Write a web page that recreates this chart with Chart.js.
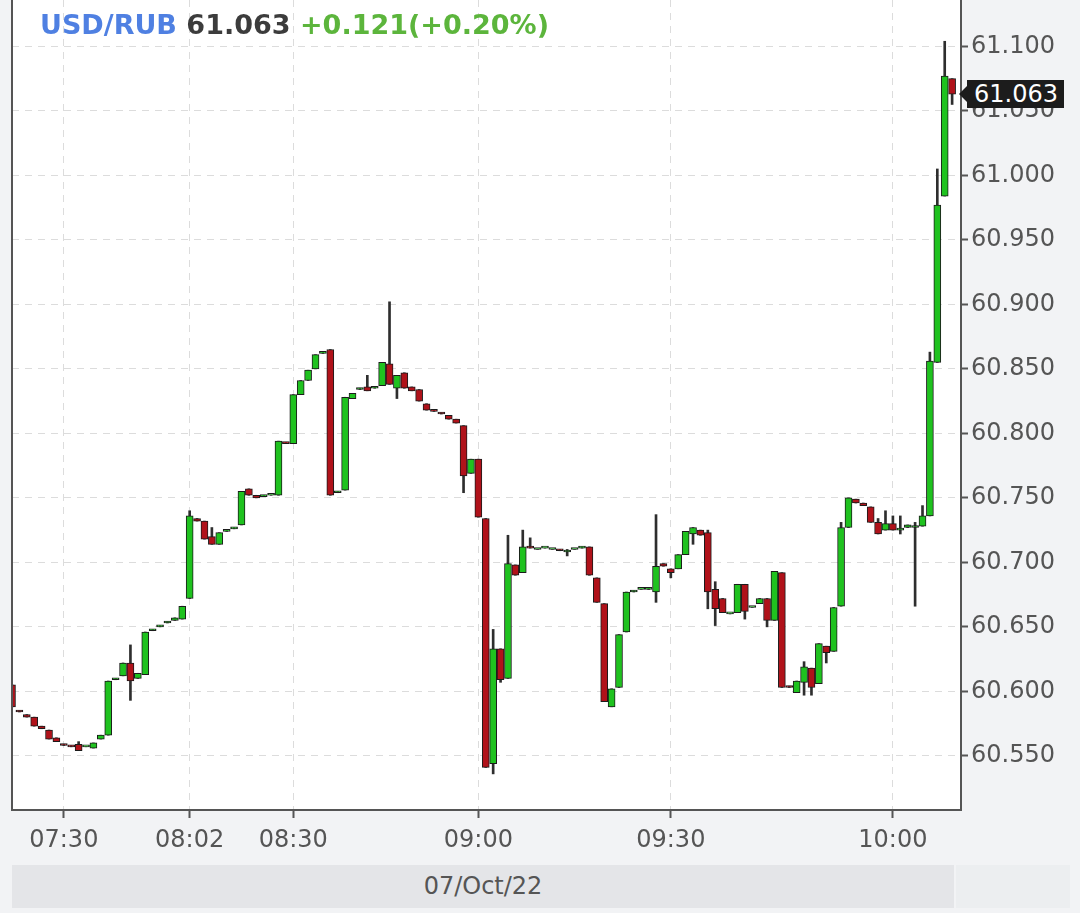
<!DOCTYPE html>
<html>
<head>
<meta charset="utf-8">
<script src="https://cdn.jsdelivr.net/npm/chart.js@4.4.1/dist/chart.umd.min.js"></script>
<style>
  html, body { margin: 0; padding: 0; background: #f2f3f5; }
  #wrap { position: relative; width: 1080px; height: 913px; overflow: hidden; }
  #c { position: absolute; left: 0; top: 0; }
  #hdr { position: absolute; left: 40px; top: 11px; font: bold 27px "DejaVu Sans", sans-serif; line-height: 27px; white-space: pre; }
  #hdr .sym { color: #4f80e2; }
  #hdr .px { color: #3c3c3c; }
  #hdr .chg { color: #5cb53c; }
  #date { position: absolute; left: 12px; top: 865px; width: 942px; height: 43px; background: #e4e5e8;
          font: 24px "DejaVu Sans", sans-serif; color: #555; text-align: center; line-height: 43px; }
  #date2 { position: absolute; left: 956px; top: 865px; width: 114px; height: 43px; background: #eceef0; }
  #tag { position: absolute; left: 967px; width: 97px; height: 28px; background: #1c1c1c; color: #fff;
         font: 24px "DejaVu Sans", sans-serif; line-height: 28px; padding-left: 7px; box-sizing: border-box; }
  #tag::before { content: ""; position: absolute; left: -8px; top: 6px; border-top: 8px solid transparent;
         border-bottom: 8px solid transparent; border-right: 8px solid #1c1c1c; }
</style>
</head>
<body>
<div id="wrap">
  <canvas id="c" width="1080" height="913"></canvas>
  <div id="hdr"></div>
  <div id="date"></div>
  <div id="date2"></div>
  <div id="tag"></div>
</div>
<script>
// ---- data (1-minute candles) ----
const symbol = 'USD/RUB';
const changeText = '+0.121(+0.20%)';
const dateLabel = '07/Oct/22';

const opens = [
  60.605,60.585,60.582,60.580,60.573,60.570,60.564,60.559,60.558,60.559,
  60.557,60.556,60.563,60.566,60.609,60.612,60.622,60.610,60.613,60.647,
  60.650,60.653,60.655,60.656,60.672,60.734,60.732,60.720,60.714,60.724,
  60.726,60.729,60.757,60.752,60.751,60.752,60.752,60.793,60.792,60.830,
  60.841,60.850,60.862,60.865,60.754,60.756,60.827,60.834,60.836,60.835,
  60.837,60.854,60.835,60.847,60.836,60.834,60.823,60.818,60.816,60.814,
  60.811,60.806,60.769,60.780,60.734,60.544,60.633,60.610,60.698,60.692,
  60.712,60.710,60.711,60.710,60.710,60.708,60.710,60.711,60.712,60.688,
  60.668,60.588,60.603,60.646,60.677,60.679,60.679,60.677,60.699,60.695,
  60.695,60.706,60.722,60.725,60.723,60.679,60.672,60.660,60.661,60.683,
  60.665,60.668,60.672,60.655,60.692,60.604,60.599,60.607,60.618,60.606,
  60.635,60.631,60.666,60.727,60.749,60.746,60.743,60.731,60.725,60.730,
  60.725,60.727,60.727,60.728,60.736,60.855,60.984,61.075
];
const highs = [
  60.605,60.585,60.582,60.580,60.573,60.570,60.564,60.559,60.558,60.561,
  60.557,60.560,60.566,60.608,60.610,60.622,60.636,60.614,60.646,60.648,
  60.651,60.654,60.657,60.666,60.740,60.734,60.732,60.727,60.723,60.725,
  60.727,60.755,60.757,60.752,60.752,60.752,60.794,60.793,60.830,60.841,
  60.849,60.861,60.863,60.865,60.755,60.828,60.831,60.835,60.845,60.836,
  60.855,60.902,60.845,60.847,60.836,60.834,60.823,60.818,60.816,60.814,
  60.811,60.806,60.780,60.780,60.734,60.648,60.633,60.721,60.698,60.725,
  60.719,60.710,60.711,60.710,60.710,60.710,60.710,60.712,60.712,60.688,
  60.668,60.602,60.644,60.677,60.678,60.679,60.680,60.737,60.699,60.695,
  60.706,60.724,60.727,60.725,60.725,60.685,60.672,60.660,60.683,60.683,
  60.665,60.672,60.672,60.693,60.692,60.604,60.608,60.623,60.618,60.637,
  60.635,60.665,60.731,60.750,60.749,60.746,60.743,60.734,60.740,60.736,
  60.736,60.729,60.731,60.744,60.863,61.005,61.104,61.075
];
const lows = [
  60.588,60.584,60.580,60.573,60.571,60.563,60.561,60.558,60.557,60.554,
  60.557,60.556,60.563,60.566,60.609,60.612,60.593,60.610,60.613,60.647,
  60.650,60.653,60.655,60.656,60.672,60.732,60.718,60.714,60.714,60.724,
  60.726,60.729,60.752,60.750,60.751,60.752,60.752,60.792,60.792,60.830,
  60.841,60.850,60.862,60.752,60.754,60.756,60.827,60.834,60.833,60.835,
  60.837,60.838,60.827,60.835,60.833,60.825,60.818,60.817,60.815,60.811,
  60.808,60.754,60.769,60.735,60.541,60.536,60.607,60.610,60.690,60.692,
  60.711,60.710,60.711,60.710,60.709,60.705,60.710,60.711,60.690,60.669,
  60.592,60.588,60.603,60.646,60.677,60.679,60.679,60.669,60.697,60.688,
  60.695,60.706,60.714,60.721,60.664,60.651,60.661,60.660,60.661,60.656,
  60.665,60.668,60.650,60.655,60.603,60.603,60.599,60.597,60.597,60.606,
  60.622,60.631,60.666,60.727,60.746,60.744,60.731,60.722,60.725,60.725,
  60.722,60.727,60.666,60.728,60.736,60.855,60.984,61.055
];
const closes = [
  60.588,60.584,60.580,60.573,60.571,60.563,60.561,60.558,60.557,60.554,
  60.557,60.560,60.566,60.608,60.610,60.622,60.608,60.614,60.646,60.648,
  60.651,60.654,60.657,60.666,60.736,60.732,60.718,60.714,60.723,60.725,
  60.727,60.755,60.752,60.750,60.752,60.752,60.794,60.792,60.830,60.841,
  60.849,60.861,60.863,60.752,60.755,60.828,60.831,60.835,60.833,60.836,
  60.855,60.838,60.845,60.835,60.833,60.825,60.818,60.817,60.815,60.811,
  60.808,60.767,60.780,60.735,60.541,60.633,60.609,60.699,60.690,60.712,
  60.711,60.710,60.711,60.710,60.709,60.708,60.710,60.712,60.690,60.669,
  60.592,60.602,60.644,60.677,60.678,60.679,60.680,60.697,60.697,60.692,
  60.706,60.724,60.727,60.721,60.677,60.664,60.661,60.660,60.683,60.662,
  60.665,60.672,60.655,60.693,60.603,60.603,60.608,60.619,60.603,60.637,
  60.630,60.665,60.727,60.750,60.746,60.744,60.731,60.722,60.730,60.725,
  60.725,60.729,60.727,60.736,60.856,60.977,61.077,61.063
];
// time axis labels and the candle index at which each sits
const timeTickIdx = [7, 24, 38, 63, 89, 119];
const timeTickLabels = ['07:30', '08:02', '08:30', '09:00', '09:30', '10:00'];
const priceTicks = [60.55, 60.60, 60.65, 60.70, 60.75, 60.80, 60.85, 60.90, 60.95, 61.00, 61.05, 61.10];
const priceMin = 60.508, priceMax = 61.136;
const idxMax = 128.2;

// ---- build ----
const lastClose = closes[closes.length - 1];
document.getElementById('hdr').innerHTML =
  '<span class="sym">' + symbol + '</span> <span class="px">' + lastClose.toFixed(3) +
  '</span> <span class="chg">' + changeText + '</span>';
document.getElementById('date').textContent = dateLabel;
const tagEl = document.getElementById('tag');
tagEl.textContent = lastClose.toFixed(3);

const bodies = opens.map((o, i) => ({ x: i, y: [o, closes[i]] }));
const wicks = highs.map((h, i) => ({ x: i, y: [lows[i], h] }));
const bodyColors = opens.map((o, i) => closes[i] >= o ? '#1fc21f' : '#b0121a');

const frame = {
  id: 'frame',
  beforeDraw(chart) {
    const { ctx, chartArea: a } = chart;
    ctx.save();
    ctx.fillStyle = '#ffffff';
    ctx.fillRect(a.left, 0, a.right - a.left, a.bottom);
    ctx.restore();
  },
  afterDraw(chart) {
    const { ctx, chartArea: a } = chart;
    ctx.save();
    ctx.strokeStyle = '#555';
    ctx.lineWidth = 2;
    ctx.beginPath();
    ctx.moveTo(a.left, 0);
    ctx.lineTo(a.left, a.bottom + 1);
    ctx.stroke();
    ctx.restore();
    const y = chart.scales.y.getPixelForValue(lastClose);
    tagEl.style.top = Math.round(y - 14) + 'px';
  }
};

new Chart(document.getElementById('c'), {
  type: 'bar',
  data: {
    datasets: [
      { label: 'body', data: bodies, backgroundColor: bodyColors, borderColor: '#1b1b1b',
        borderWidth: 1, borderSkipped: false, barThickness: 7, minBarLength: 2, grouped: false, order: 0 },
      { label: 'wick', data: wicks, backgroundColor: '#2e2e2e', borderWidth: 0,
        barThickness: 2, grouped: false, order: 1 }
    ]
  },
  options: {
    responsive: false,
    animation: false,
    devicePixelRatio: 1,
    layout: { padding: { left: 12, right: 0, top: 0, bottom: 53 } },
    plugins: { legend: { display: false }, tooltip: { enabled: false } },
    scales: {
      x: {
        type: 'linear', position: 'bottom', min: 0, max: idxMax, offset: false,
        afterBuildTicks: (s) => { s.ticks = timeTickIdx.map(v => ({ value: v })); },
        afterFit: (s) => { s.height = 50; s.paddingLeft = 0; s.paddingRight = 0; },
        ticks: {
          autoSkip: false, maxRotation: 0, padding: 8, color: '#555',
          font: { family: 'DejaVu Sans', size: 24 },
          callback: (v) => { const k = timeTickIdx.indexOf(v); return k >= 0 ? timeTickLabels[k] : ''; }
        },
        grid: { offset: false, color: '#dcdcdc', lineWidth: 1, drawTicks: true, tickLength: 8, tickColor: '#555', tickWidth: 2 },
        border: { display: true, color: '#555', width: 2, dash: [7, 6] }
      },
      y: {
        type: 'linear', position: 'right', min: priceMin, max: priceMax,
        afterBuildTicks: (s) => { s.ticks = priceTicks.map(v => ({ value: v })); },
        afterFit: (s) => { s.width = 119; s.paddingTop = 0; s.paddingBottom = 0; },
        ticks: {
          padding: 3, color: '#555', font: { family: 'DejaVu Sans', size: 24 },
          callback: (v) => Number(v).toFixed(3)
        },
        grid: { color: '#dcdcdc', lineWidth: 1, drawTicks: true, tickLength: 7, tickColor: '#555', tickWidth: 2 },
        border: { display: true, color: '#555', width: 2, dash: [7, 6] }
      }
    }
  },
  plugins: [frame]
});
</script>
</body>
</html>
